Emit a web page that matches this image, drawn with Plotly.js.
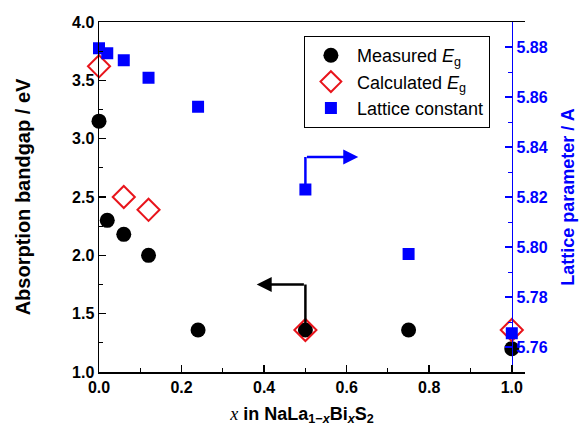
<!DOCTYPE html>
<html>
<head>
<meta charset="utf-8">
<script src="https://cdn.plot.ly/plotly-3.0.1.min.js"></script>
<style>html,body{margin:0;padding:0;background:#fff;}#chart{width:582px;height:435px;}</style>
</head>
<body>
<div id="chart"></div>
<script>
// Data
const xMeasured = [0, 0.02, 0.06, 0.12, 0.24, 0.5, 0.75, 1.0];
const egMeasured = [3.15, 2.30, 2.18, 2.00, 1.36, 1.36, 1.36, 1.20];
const xCalculated = [0, 0.06, 0.12, 0.5, 1.0];
const egCalculated = [3.62, 2.50, 2.39, 1.36, 1.36];
const xLattice = [0, 0.02, 0.06, 0.12, 0.24, 0.5, 0.75, 1.0];
const latticeConst = [5.8795, 5.8775, 5.8747, 5.8677, 5.8561, 5.8230, 5.7972, 5.7655];

// Arrow annotations (indicating which axis each series belongs to)
const arrowX = 0.5;
const blackArrowY = 1.75, blackArrowEndX = 0.382, blackArrowStartY = 1.36;
const blueArrowY = 5.836, blueArrowEndX = 0.628, blueArrowStartY = 5.823;

const BLUE = '#0000ff';
const RED = '#e8141b';
const sans = 'Liberation Sans, Arial, sans-serif';

const traces = [
  {
    x: xMeasured, y: egMeasured, type: 'scatter', mode: 'markers',
    name: 'Measured <i>E</i><sub>g</sub>', cliponaxis: false,
    marker: {symbol: 'circle', size: 15, color: '#000'}
  },
  {
    x: xCalculated, y: egCalculated, type: 'scatter', mode: 'markers',
    name: 'Calculated <i>E</i><sub>g</sub>', cliponaxis: false,
    marker: {symbol: 'diamond-open', size: 17, color: RED, line: {width: 2, color: RED}}
  },
  {
    x: xLattice, y: latticeConst, type: 'scatter', mode: 'markers', yaxis: 'y2',
    name: 'Lattice constant', cliponaxis: false,
    marker: {symbol: 'square', size: 12, color: BLUE}
  }
];

const xMax = 1.032;
const tickFont = {family: sans, size: 16, color: '#000', weight: 'bold'};

const layout = {
  width: 582, height: 435,
  margin: {l: 99, r: 57, t: 22, b: 63},
  paper_bgcolor: '#fff', plot_bgcolor: '#fff',
  showlegend: true,
  legend: {
    x: 0.481, y: 0.96, xanchor: 'left', yanchor: 'top',
    bgcolor: '#fff', bordercolor: '#000', borderwidth: 1,
    font: {family: sans, size: 18, color: '#000'},
    itemwidth: 42,
    tracegroupgap: 0
  },
  xaxis: {
    range: [0, xMax], showgrid: false, zeroline: false,
    showline: true, linecolor: '#000', linewidth: 1.5, mirror: true,
    ticks: 'inside', ticklen: 7, tickwidth: 1.5, tickcolor: '#000',
    tick0: 0, dtick: 0.2, tickformat: '.1f',
    minor: {ticks: 'inside', ticklen: 4, dtick: 0.1, tickcolor: '#000', tickwidth: 1},
    tickfont: tickFont,
    title: {
      text: '<span style="font-family:Liberation Serif;font-weight:normal"><i>x</i></span> in NaLa<sub>1−<i>x</i></sub>Bi<sub><i>x</i></sub>S<sub>2</sub>&nbsp;&nbsp;&nbsp;&nbsp;',
      font: {family: sans, size: 18, color: '#000', weight: 'bold'},
      standoff: 12
    }
  },
  yaxis: {
    range: [1.0, 4.0], showgrid: false, zeroline: false,
    showline: true, linecolor: '#000', linewidth: 1.5,
    ticks: 'inside', ticklen: 7, tickwidth: 1.5, tickcolor: '#000',
    tick0: 1, dtick: 0.5, tickformat: '.1f',
    minor: {ticks: 'inside', ticklen: 4, dtick: 0.25, tickcolor: '#000', tickwidth: 1},
    tickfont: tickFont,
    title: {text: 'Absorption bandgap / eV', font: {family: sans, size: 20, color: '#000', weight: 'bold'}, standoff: 36}
  },
  yaxis2: {
    overlaying: 'y', side: 'right', anchor: 'free', position: 1.0 / xMax,
    range: [5.75, 5.89], showgrid: false, zeroline: false,
    showline: true, linecolor: BLUE, linewidth: 1.5,
    ticks: 'inside', ticklen: 7, tickwidth: 1.5, tickcolor: BLUE,
    tick0: 5.76, dtick: 0.02, tickformat: '.2f',
    minor: {ticks: 'inside', ticklen: 4, dtick: 0.01, tickcolor: BLUE, tickwidth: 1},
    tickfont: {family: sans, size: 16, color: BLUE, weight: 'bold'},
    title: {text: 'Lattice parameter / A', font: {family: sans, size: 18, color: BLUE, weight: 'bold'}, standoff: 14}
  },
  shapes: [
    {type: 'line', xref: 'x', yref: 'y', x0: arrowX, x1: arrowX, y0: blackArrowStartY, y1: blackArrowY,
     line: {color: '#000', width: 2.5}},
    {type: 'line', xref: 'x', yref: 'y2', x0: arrowX, x1: arrowX, y0: blueArrowStartY, y1: blueArrowY,
     line: {color: BLUE, width: 2.5}}
  ],
  annotations: [
    {xref: 'x', yref: 'y', axref: 'x', ayref: 'y', x: blackArrowEndX, y: blackArrowY, ax: arrowX, ay: blackArrowY,
     text: '', showarrow: true, arrowhead: 2, arrowsize: 1.2, arrowwidth: 2.5, arrowcolor: '#000'},
    {xref: 'x', yref: 'y2', axref: 'x', ayref: 'y2', x: blueArrowEndX, y: blueArrowY, ax: arrowX, ay: blueArrowY,
     text: '', showarrow: true, arrowhead: 2, arrowsize: 1.2, arrowwidth: 2.5, arrowcolor: BLUE}
  ]
};

Plotly.newPlot('chart', traces, layout, {displayModeBar: false, staticPlot: true});
</script>
</body>
</html>
